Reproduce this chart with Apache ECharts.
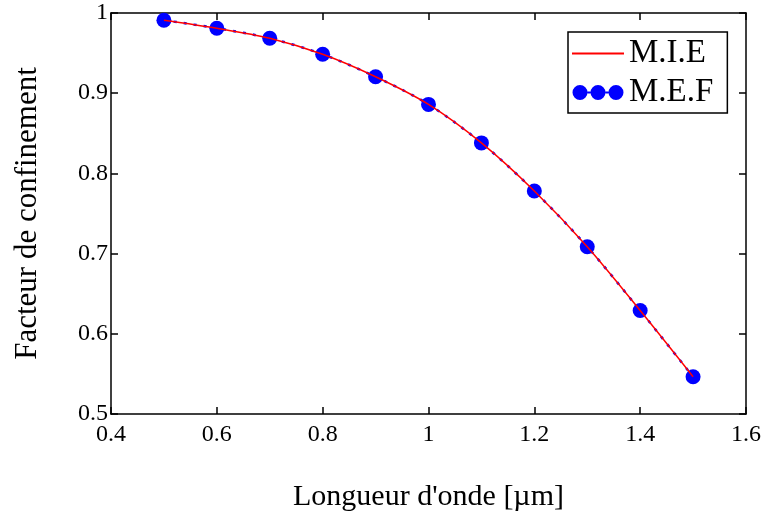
<!DOCTYPE html>
<html><head><meta charset="utf-8">
<script src="https://cdn.jsdelivr.net/npm/echarts@6/dist/echarts.min.js"></script>
<style>html,body{margin:0;padding:0;background:#fff}#c{width:768px;height:513px}</style>
</head><body><div id="c"></div>
<script>
const wavelengths = [0.5, 0.6, 0.7, 0.8, 0.9, 1.0, 1.1, 1.2, 1.3, 1.4, 1.5];
const mieValues = [0.991, 0.981, 0.9685, 0.9485, 0.9205, 0.886, 0.838, 0.778, 0.7085, 0.629, 0.5465];
const mefValues = [0.991, 0.981, 0.9685, 0.9485, 0.9205, 0.886, 0.838, 0.778, 0.7085, 0.629, 0.5465];
const seriesNames = ['M.I.E', 'M.E.F'];
const xTitle = "Longueur d'onde [\u00b5m]";
const yTitle = 'Facteur de confinement';

const font = '"Liberation Serif", "DejaVu Serif", serif';
const fmt = v => String(+v.toFixed(1));
const axisLine = {show: true, lineStyle: {color: '#000', width: 1.5}};
const tick = {inside: true, length: 7, lineStyle: {color: '#000', width: 1.5}};
const chart = echarts.init(document.getElementById('c'));
const threeDots = 'path://M0,5a5,5 0 1,0 10,0a5,5 0 1,0 -10,0Z M10,4.3H12V5.7H10Z M12,5a5,5 0 1,0 10,0a5,5 0 1,0 -10,0Z M22,4.3H24V5.7H22Z M24,5a5,5 0 1,0 10,0a5,5 0 1,0 -10,0Z';
chart.setOption({
  animation: false,
  backgroundColor: '#fff',
  grid: {left: 111, right: 22, top: 13, bottom: 99, containLabel: false, outerBoundsMode: 'none'},
  legend: {
    orient: 'vertical', left: 568, top: 32,
    backgroundColor: '#fff', borderColor: '#000', borderWidth: 1.5,
    padding: [5, 14, 4, 3], itemGap: 6, itemWidth: 52, itemHeight: 15,
    textStyle: {fontFamily: font, fontSize: 33, color: '#000'},
    data: [
      {name: seriesNames[0], itemStyle: {opacity: 0}},
      {name: seriesNames[1], icon: threeDots, itemStyle: {color: '#0000ff'}}
    ]
  },
  xAxis: [{
    type: 'value', min: 0.4, max: 1.6, interval: 0.2,
    name: xTitle, nameLocation: 'middle', nameGap: 68,
    nameTextStyle: {fontFamily: font, fontSize: 30, color: '#000'},
    axisLine: axisLine, axisTick: tick,
    axisLabel: {formatter: fmt, fontFamily: font, fontSize: 24, color: '#000', margin: 9},
    splitLine: {show: false}
  }, {
    type: 'value', position: 'top', min: 0.4, max: 1.6, interval: 0.2,
    axisLine: axisLine, axisTick: tick,
    axisLabel: {show: false}, splitLine: {show: false}
  }],
  yAxis: [{
    type: 'value', min: 0.5, max: 1, interval: 0.1,
    name: yTitle, nameLocation: 'middle', nameGap: 68, nameRotate: 90,
    nameTextStyle: {fontFamily: font, fontSize: 31, color: '#000'},
    axisLine: axisLine, axisTick: tick,
    axisLabel: {formatter: fmt, fontFamily: font, fontSize: 24, color: '#000', margin: 3},
    splitLine: {show: false}
  }, {
    type: 'value', position: 'right', min: 0.5, max: 1, interval: 0.1,
    axisLine: axisLine, axisTick: tick,
    axisLabel: {show: false}, splitLine: {show: false}
  }],
  series: [{
    name: seriesNames[1], type: 'line', z: 2,
    data: wavelengths.map((x, i) => [x, mefValues[i]]),
    smooth: 0.3,
    symbol: 'circle', symbolSize: 15,
    itemStyle: {color: '#0000ff'},
    lineStyle: {color: '#0000ff', width: 2.5, type: [3, 7]}
  }, {
    name: seriesNames[0], type: 'line', z: 3,
    data: wavelengths.map((x, i) => [x, mieValues[i]]),
    smooth: 0.3, symbol: 'circle', showSymbol: false,
    itemStyle: {color: '#ff0000'},
    lineStyle: {color: '#ff0000', width: 1.5}
  }]
});
</script></body></html>
